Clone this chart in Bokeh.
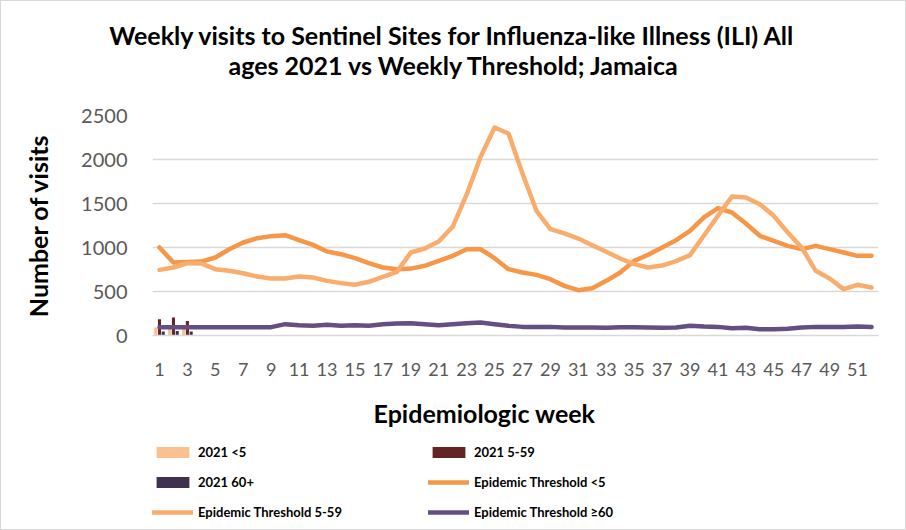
from bokeh.plotting import figure
from bokeh.models import Range1d, FixedTicker, Legend, LegendItem, ColumnDataSource
from bokeh.core.properties import value
from bokeh.layouts import column
from bokeh.embed import file_html
from bokeh.resources import INLINE
from bokeh.transform import dodge

# ---- data ----
weeks = list(range(1, 53))
bar_weeks = [1, 2, 3]
visits_2021_u5 = [90, 95, 85]
visits_2021_5_59 = [185, 205, 165]
visits_2021_60p = [45, 50, 45]

threshold_u5 = [1000, 830, 835, 840, 886, 980, 1057, 1106, 1129, 1140, 1083, 1030, 955,
                924, 879, 822, 773, 754, 760, 792, 848, 905, 980, 980, 879, 754, 716,
                689, 640, 564, 515, 538, 621, 716, 848, 917, 1000, 1083, 1189, 1341,
                1447, 1398, 1273, 1133, 1076, 1019, 981, 1019, 981, 943, 905, 905]
threshold_5_59 = [746, 773, 822, 818, 754, 735, 708, 670, 648, 648, 670, 659, 621, 595,
                  576, 610, 667, 723, 943, 989, 1068, 1235, 1600, 2030, 2364, 2295, 1840,
                  1417, 1208, 1160, 1102, 1026, 951, 875, 811, 773, 795, 845, 913, 1136,
                  1360, 1580, 1568, 1492, 1360, 1170, 1000, 735, 648, 527, 576, 545]
threshold_60p = [95, 95, 95, 95, 95, 95, 95, 95, 95, 129, 117, 110, 121, 110, 117, 110,
                 129, 136, 140, 129, 117, 129, 140, 148, 129, 110, 98, 98, 98, 91, 91,
                 91, 87, 95, 95, 91, 87, 91, 110, 102, 98, 83, 87, 72, 72, 76, 91, 98,
                 98, 98, 102, 98]

y_ticks = [0, 500, 1000, 1500, 2000, 2500]
x_ticks = list(range(1, 52, 2))

title_lines = ["Weekly visits to Sentinel Sites for Influenza-like Illness (ILI) All",
               "ages 2021 vs Weekly Threshold; Jamaica"]
x_title = "Epidemiologic week"
y_title = "Number of visits"
series_labels = ["2021 <5", "2021 5-59", "2021 60+", "Epidemic Threshold <5",
                 "Epidemic Threshold 5-59", "Epidemic Threshold \u226560"]
bar_colors = ["#FAC090", "#632523", "#403151"]
line_colors = ["#F79646", "#FAAC6C", "#654E84"]

FONT = "Lato"
W = 904  # + 1px border on each side = 906


def blank(height):
    f = figure(width=W, height=height, output_backend="svg", toolbar_location=None,
               x_range=Range1d(0, W), y_range=Range1d(0, height), min_border=0,
               x_axis_location=None, y_axis_location=None, frame_align=False)
    f.grid.grid_line_color = None
    f.outline_line_color = None
    f.background_fill_color = "white"
    f.border_fill_color = "white"
    return f


bars = ColumnDataSource(dict(week=bar_weeks, u5=visits_2021_u5, a559=visits_2021_5_59, a60=visits_2021_60p))
lines = ColumnDataSource(dict(week=weeks, t_u5=threshold_u5, t_559=threshold_5_59, t_60=threshold_60p))

# ---- title strip ----
TH = 99
pt = blank(TH)
pt.text(x=[451, 453], y=[TH - 33, TH - 63], text=title_lines, text_align="center",
        text_baseline="alphabetic", text_font=value(FONT), text_font_size="25px",
        text_font_style="bold", text_color="black")

# ---- main chart ----
PH = 285
p = figure(width=W, height=PH, output_backend="svg", toolbar_location=None,
           x_range=Range1d(0.5, 52.5), y_range=Range1d(0, 2500),
           min_border_left=151, min_border_right=27, min_border_top=15, min_border_bottom=50)
p.background_fill_color = "white"
p.border_fill_color = "white"
p.outline_line_color = None

bw = 0.22
p.vbar(x=dodge("week", -0.27, range=p.x_range), top="u5", width=bw, source=bars,
       fill_color=bar_colors[0], line_color=None)
p.vbar(x=dodge("week", 0.0, range=p.x_range), top="a559", width=bw, source=bars,
       fill_color=bar_colors[1], line_color=None)
p.vbar(x=dodge("week", 0.27, range=p.x_range), top="a60", width=bw, source=bars,
       fill_color=bar_colors[2], line_color=None)

lw = 4.5
for col, c in zip(["t_u5", "t_559", "t_60"], line_colors):
    p.line("week", col, source=lines, line_color=c, line_width=lw,
           line_join="round", line_cap="round")

p.xaxis.ticker = FixedTicker(ticks=x_ticks)
p.yaxis.ticker = FixedTicker(ticks=y_ticks)
p.xgrid.grid_line_color = None
p.ygrid.grid_line_color = "#D9D9D9"
p.ygrid.grid_line_width = 1.5
for ax in (p.xaxis, p.yaxis):
    ax.major_tick_line_color = None
    ax.minor_tick_line_color = None
    ax.major_label_text_color = "#595959"
    ax.major_label_text_font = FONT
p.xaxis.axis_line_color = "#D9D9D9"
p.xaxis.axis_line_width = 1.5
p.yaxis.axis_line_color = None
p.xaxis.major_label_text_font_size = "18px"
p.xaxis.major_label_standoff = 21
p.yaxis.major_label_text_font_size = "20px"
p.yaxis.major_label_standoff = 19

p.yaxis.axis_label = y_title
p.yaxis.axis_label_text_font = FONT
p.yaxis.axis_label_text_font_size = "25px"
p.yaxis.axis_label_text_font_style = "bold"
p.yaxis.axis_label_text_color = "black"
p.yaxis.axis_label_standoff = 25

# ---- x title + legend strip ----
LH = 528 - TH - PH
pl = blank(LH)
pl.text(x=[483], y=[LH - 27], text=[x_title], text_align="center",
        text_baseline="alphabetic", text_font=value(FONT), text_font_size="25px",
        text_font_style="bold", text_color="black")
# legend proxies: same data, mapped onto off-screen ranges so only the legend swatches show
pl.extra_x_ranges = {"off": Range1d(100, 200)}
pl.extra_y_ranges = {"off": Range1d(5000, 6000)}
off = dict(x_range_name="off", y_range_name="off")
proxies = [
    pl.vbar(x="week", top="u5", width=bw, source=bars, fill_color=bar_colors[0], line_color=None, **off),
    pl.vbar(x="week", top="a559", width=bw, source=bars, fill_color=bar_colors[1], line_color=None, **off),
    pl.vbar(x="week", top="a60", width=bw, source=bars, fill_color=bar_colors[2], line_color=None, **off),
]
for col, c in zip(["t_u5", "t_559", "t_60"], line_colors):
    proxies.append(pl.line("week", col, source=lines, line_color=c, line_width=lw,
                           line_cap="round", **off))
legend = Legend(items=[LegendItem(label=series_labels[i], renderers=[proxies[i]]) for i in range(6)],
                orientation="horizontal", ncols=2, location=(151, 7),
                label_text_font=FONT, label_text_font_size="13px", label_text_font_style="bold",
                label_text_color="black", glyph_width=41, glyph_height=14, label_height=20,
                label_standoff=5, label_width=220, spacing=10, padding=5, margin=0,
                border_line_color=None, background_fill_alpha=0)
pl.add_layout(legend, "center")

layout = column(pt, p, pl, spacing=0, styles={"border": "1px solid #D9D9D9"})
open("out.html", "w").write(file_html(layout, INLINE))
